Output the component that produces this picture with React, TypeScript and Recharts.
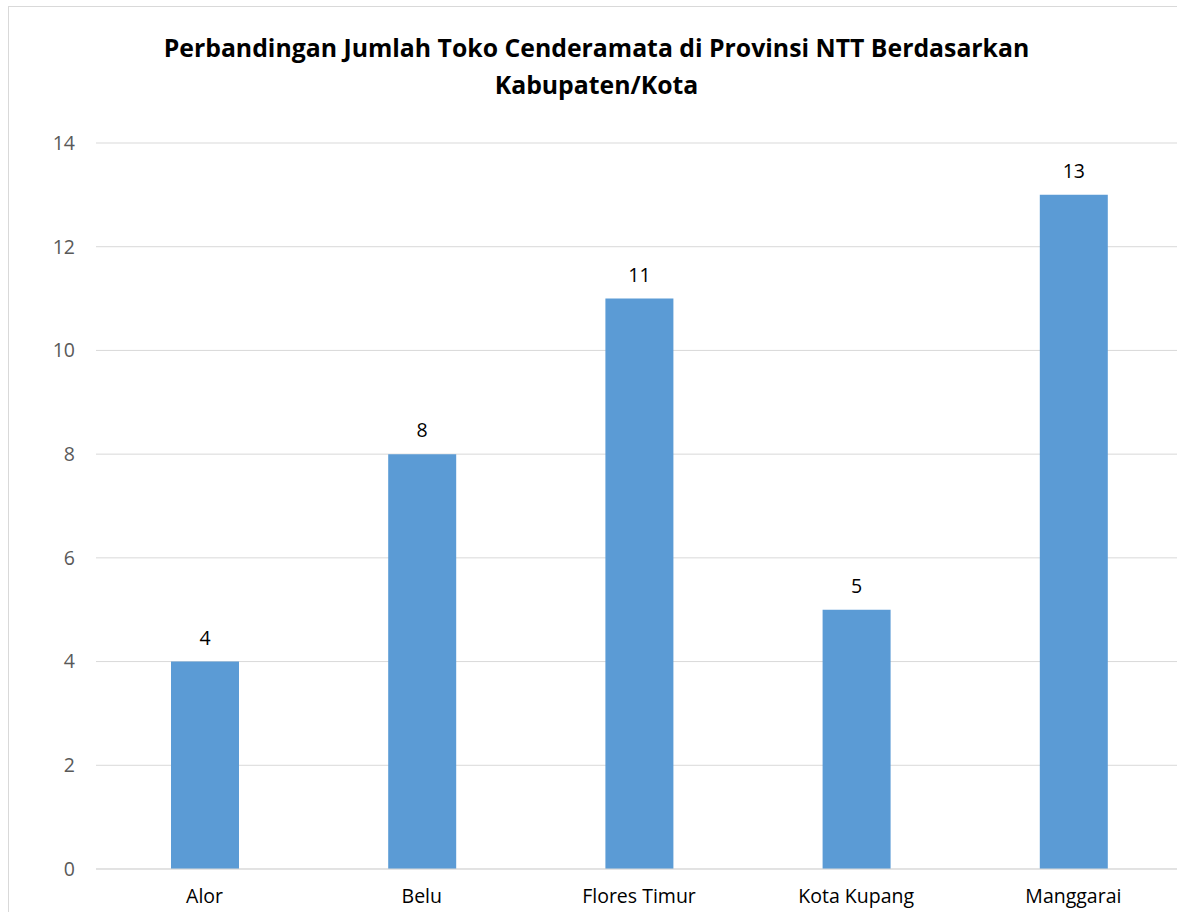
import React from "react";
import { BarChart, Bar, XAxis, YAxis, CartesianGrid, LabelList } from "recharts";

const categories = ["Alor", "Belu", "Flores Timur", "Kota Kupang", "Manggarai"];
const values = [4, 8, 11, 5, 13];
const yTicks = [0, 2, 4, 6, 8, 10, 12, 14];
const titleLines = [
  "Perbandingan Jumlah Toko Cenderamata di Provinsi NTT Berdasarkan",
  "Kabupaten/Kota",
];

const data = categories.map((name, i) => ({ name, value: values[i] }));

const FONT = "'Open Sans', 'DejaVu Sans', sans-serif";

export default function App() {
  return (
    <div
      style={{
        position: "absolute",
        left: 0,
        top: 0,
        width: 1177,
        height: 912,
        overflow: "hidden",
        background: "#ffffff",
        fontFamily: FONT,
      }}
    >
      <div
        style={{
          position: "absolute",
          left: 8,
          top: 6,
          width: 1200,
          height: 960,
          border: "1px solid #d9d9d9",
          boxSizing: "border-box",
        }}
      />
      <div
        style={{
          position: "absolute",
          left: 8,
          top: 29,
          width: 1177,
          textAlign: "center",
          fontWeight: 700,
          fontSize: 24.8,
          lineHeight: "37px",
          color: "#000000",
        }}
      >
        {titleLines.map((t, i) => (
          <div key={i}>{t}</div>
        ))}
      </div>
      <div style={{ position: "absolute", left: 0, top: 0 }}>
        <BarChart
          width={1200}
          height={912}
          data={data}
          margin={{ top: 143, right: 18, bottom: 0, left: 36 }}
        >
          <CartesianGrid vertical={false} stroke="#d9d9d9" strokeWidth={1} />
          <XAxis
            dataKey="name"
            height={43}
            axisLine={{ stroke: "#d9d9d9" }}
            tickLine={false}
            tickSize={0}
            tickMargin={20}
            interval={0}
            tick={{ fill: "#000000", fontSize: 19.5, fontFamily: FONT }}
          />
          <YAxis
            width={60}
            domain={[0, 14]}
            ticks={yTicks}
            axisLine={false}
            tickLine={false}
            tickSize={0}
            tickMargin={21}
            tick={{ fill: "#595959", fontSize: 19.5, fontFamily: FONT }}
          />
          <Bar dataKey="value" fill="#5b9bd5" barSize={68} isAnimationActive={false}>
            <LabelList
              dataKey="value"
              position="top"
              offset={17}
              style={{ fill: "#000000", fontSize: 19.5, fontFamily: FONT }}
            />
          </Bar>
        </BarChart>
      </div>
    </div>
  );
}
